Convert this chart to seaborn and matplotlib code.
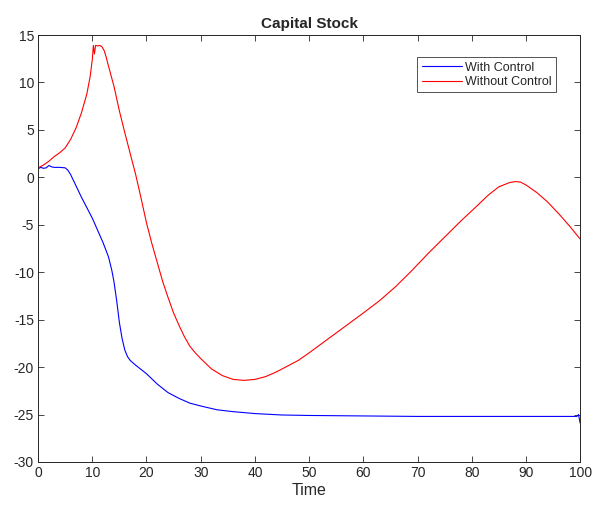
import numpy as np
import pandas as pd
import matplotlib
matplotlib.use("Agg")
import matplotlib.pyplot as plt
import seaborn as sns

# values
t_with = [0, 0.5, 1, 1.5, 2, 2.5, 3, 4, 5, 5.5, 6, 7, 8, 9, 10, 11, 12, 13, 13.6, 14,
          14.5, 15, 15.5, 16, 16.5, 17, 18, 20, 22, 24, 26, 28, 30, 33, 36, 40,
          45, 50, 60, 70, 80, 90, 99.4, 99.7, 100]
with_control = [0.9, 1.05, 0.95, 1.0, 1.25, 1.1, 1.05, 1.05, 1.0, 0.75, 0.3, -0.9, -2.1,
                -3.2, -4.3, -5.6, -6.9, -8.4, -9.8, -11.0, -13.0, -15.3, -17.0,
                -18.2, -18.9, -19.3, -19.8, -20.7, -21.8, -22.7, -23.3, -23.8,
                -24.1, -24.5, -24.7, -24.9, -25.05, -25.1, -25.15, -25.2, -25.2,
                -25.2, -25.2, -25.0, -25.9]

t_without = [0, 1, 2, 3, 4, 5, 6, 7, 8, 9, 9.6, 10.0, 10.2, 10.4, 10.6, 11.0, 11.4,
             11.8, 12.2, 12.6, 13, 14, 15, 16, 17, 18, 19, 20, 21, 22, 23, 24, 25,
             26, 27, 28, 29, 30, 32, 34, 36, 38, 40, 42, 44, 46, 48, 50, 55, 60,
             63, 66, 69, 72, 75, 78, 81, 83, 85, 87, 88, 89, 90, 92, 94, 96, 98, 100]
without_control = [1.0, 1.3, 1.7, 2.2, 2.6, 3.1, 4.0, 5.2, 6.8, 8.8, 10.6, 12.4,
                   13.9, 13.0, 13.9, 13.85, 13.9, 13.75, 13.35, 12.6, 11.7, 9.6,
                   7.0, 4.7, 2.5, 0.3, -2.2, -4.8, -7.0, -9.0, -11.0, -12.7, -14.3,
                   -15.6, -16.8, -17.8, -18.5, -19.1, -20.2, -20.9, -21.3, -21.4,
                   -21.3, -21.0, -20.5, -19.9, -19.3, -18.5, -16.4, -14.3, -13.0,
                   -11.5, -9.8, -8.0, -6.3, -4.6, -3.0, -1.9, -1.0, -0.55, -0.45,
                   -0.5, -0.8, -1.6, -2.6, -3.8, -5.1, -6.5]

x_ticks = list(range(0, 101, 10))
y_ticks = list(range(-30, 16, 5))

df = pd.concat([
    pd.DataFrame({"Time": t_with, "value": with_control, "series": "With Control"}),
    pd.DataFrame({"Time": t_without, "value": without_control, "series": "Without Control"}),
])

sns.set_style("ticks")
plt.rcParams['font.family'] = ['Liberation Sans', 'DejaVu Sans']
plt.rcParams['axes.unicode_minus'] = False

fig = plt.figure(figsize=(5.95, 5.15), dpi=100)
ax = fig.add_axes([0.064, 0.103, 0.911, 0.829])

sns.lineplot(data=df, x="Time", y="value", hue="series", sort=False,
             estimator=None, palette={"With Control": "#0000ff", "Without Control": "#ff0000"},
             linewidth=0.8, ax=ax)

ax.set_xlim(0, 100)
ax.set_ylim(-30, 15)
ax.set_xticks(x_ticks)
ax.set_yticks(y_ticks)
ax.tick_params(direction="in", top=True, right=True, labelsize=10, length=4,
               width=0.6, colors="#262626", pad=3)
for s in ax.spines.values():
    s.set_visible(True)
    s.set_linewidth(0.7)
    s.set_color("#262626")

ax.set_xlabel("Time", fontsize=11.5, color="#262626", labelpad=2)
ax.set_ylabel("")
ax.set_title("Capital Stock", fontsize=11, fontweight="bold", pad=5)

leg = ax.legend(loc="upper right", bbox_to_anchor=(0.956, 0.948), borderaxespad=0,
                fontsize=9, frameon=True, fancybox=False, handlelength=3.2,
                handletextpad=0.3, borderpad=0.35, labelspacing=0.2)
leg.get_frame().set_edgecolor("#262626")
leg.get_frame().set_linewidth(0.7)

fig.savefig("out.png", dpi=100)
